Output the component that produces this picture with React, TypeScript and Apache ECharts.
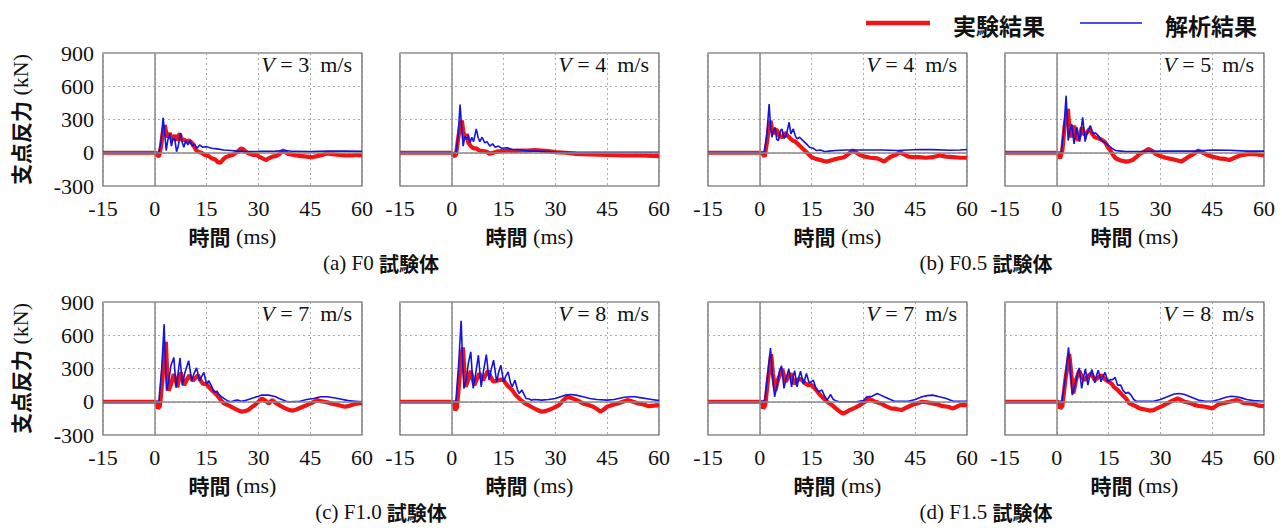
import React, { useEffect, useRef } from "react";
import * as echarts from "echarts";

// ---------- data (time ms, reaction kN) ----------
const X_TICKS = { min: -15, max: 60, interval: 15 };
const Y_TICKS = { min: -300, max: 900, interval: 300 };
const SERIES_NAMES = ["実験結果", "解析結果"];
const SPEEDS = ["3", "4", "4", "5", "7", "8", "7", "8"];
const CAPTION_LABELS = ["(a) F0 ", "(b) F0.5 ", "(c) F1.0 ", "(d) F1.5 "];
const CAPTION_SUFFIX = "試験体";

const F0_V3_EXP = [[-15,0],[0.3,0],[0.8,-30],[1.3,-25],[1.8,60],[2.4,200],[2.9,250],[3.3,180],[3.8,140],[4.3,180],[4.8,130],[5.3,120],[5.8,160],[6.3,110],[6.8,150],[7.3,170],[7.8,110],[8.5,120],[9.2,100],[10,110],[11,80],[11.8,30],[12.5,10],[13.5,0],[14.5,-20],[15.5,-30],[16.5,-50],[17.5,-60],[18.3,-85],[19,-90],[19.8,-60],[20.5,-40],[21.5,-30],[22.5,-20],[23.5,0],[24.3,20],[25,40],[25.7,30],[26.5,5],[27.5,-10],[28.5,-20],[29.5,-20],[30.5,-40],[31.5,-55],[32.3,-65],[33,-50],[34,-35],[35,-30],[36,-15],[37,20],[37.7,10],[38.5,-10],[39.5,-15],[41,-25],[42.5,-30],[44,-35],[45.5,-40],[47,-30],[48.5,-20],[50,-5],[51,-10],[52,-15],[53.5,-20],[55,-25],[57,-25],[58.5,-20],[60,-25]];
const F0_V3_ANA = [[-15,0],[0.5,0],[1.2,5],[1.8,100],[2.4,315],[2.8,200],[3.3,20],[3.8,120],[4.3,170],[4.8,60],[5.3,130],[5.8,120],[6.3,10],[6.8,60],[7.4,180],[7.9,100],[8.4,50],[9,110],[9.6,70],[10.2,110],[10.8,60],[11.5,80],[12.2,40],[13,70],[13.8,50],[15,55],[16.5,40],[18,35],[20,25],[22,20],[24,15],[26,10],[30,12],[35,15],[38,20],[40,12],[45,10],[50,15],[55,15],[60,12]];

const F0_V4_EXP = [[-15,0],[0,0],[0.6,-30],[1.2,-20],[1.8,120],[2.4,240],[2.9,290],[3.3,200],[3.8,120],[4.3,170],[4.8,90],[5.5,60],[6.3,40],[7,40],[8,20],[9,15],[10,10],[11,-10],[12,0],[13,10],[14.5,15],[16,20],[18,15],[20,20],[22,20],[24,25],[26,20],[28,15],[30,5],[33,0],[36,-10],[40,-15],[45,-20],[50,-25],[55,-25],[60,-30]];
const F0_V4_ANA = [[-15,0],[0.5,0],[1.2,5],[1.8,150],[2.4,435],[2.9,200],[3.3,60],[3.8,150],[4.3,120],[4.8,160],[5.3,90],[5.8,140],[6.3,100],[7.1,215],[7.6,140],[8.1,100],[8.8,140],[9.5,90],[10.2,100],[11,60],[11.8,80],[12.6,50],[13.5,60],[14.5,40],[16,45],[17.5,30],[19,30],[21,20],[23,15],[25,15],[28,10],[30,5],[35,5],[40,5],[45,5],[50,5],[55,5],[60,5]];

const F05_V4_EXP = [[-15,0],[0.6,0],[1.4,-35],[2,80],[2.6,220],[3.1,290],[3.6,200],[4,170],[4.5,210],[5,200],[5.7,150],[6.5,140],[7.2,180],[8,155],[8.8,130],[9.5,110],[10.3,100],[11,80],[12,50],[13,20],[14,-10],[15,-40],[16.2,-55],[17.5,-65],[18.5,-75],[19.5,-80],[20.5,-70],[21.5,-60],[23,-50],[24.5,-40],[25.7,-10],[27,20],[28,0],[29,-20],[30.5,-35],[32,-45],[34,-50],[35,-65],[36,-80],[37,-55],[38,-35],[39.3,-20],[40.5,5],[41.5,-10],[43,-35],[44.5,-40],[46,-40],[48,-45],[50,-40],[52,-25],[54,-35],[56,-40],[58,-45],[60,-45]];
const F05_V4_ANA = [[-15,0],[0.5,0],[1.3,5],[2,150],[2.7,440],[3.1,250],[3.5,140],[4,200],[4.4,230],[4.9,120],[5.4,110],[6,200],[6.4,215],[7,130],[7.6,150],[8.5,275],[9,170],[9.7,215],[10.3,150],[10.8,125],[11.5,140],[12.5,110],[13.5,80],[14.4,50],[15.5,40],[16.4,20],[17.5,25],[19,10],[20,15],[22,20],[25,25],[28,25],[30,25],[35,25],[40,20],[43,25],[46,30],[50,28],[55,22],[58,25],[60,30]];

const F05_V5_EXP = [[-15,0],[0.3,0],[1,-50],[1.6,20],[2.3,250],[3.2,395],[3.7,200],[4.2,140],[5,245],[5.6,150],[6.2,110],[7.3,230],[8,160],[8.7,180],[9.5,215],[10.3,170],[11,140],[12,130],[12.5,125],[13.3,110],[14,95],[14.8,50],[15.5,20],[16.3,-20],[17,-50],[18.5,-70],[20,-80],[21,-75],[22,-65],[23,-40],[24,-10],[25.3,10],[26.5,35],[27.5,20],[28.5,-10],[30,-30],[31.5,-45],[33,-55],[34.5,-65],[36,-80],[37.3,-55],[38.5,-30],[39.5,-15],[41,20],[42,5],[43.5,-20],[45,-35],[47,-50],[48.5,-55],[50,-65],[51.5,-45],[53,-25],[55,-15],[56.5,-10],[58,-15],[60,-25]];
const F05_V5_ANA = [[-15,0],[0.5,0],[1.3,10],[2,200],[2.7,515],[3.3,110],[3.8,200],[4.3,260],[5,80],[5.8,230],[6.6,100],[7.5,320],[8.2,100],[8.8,180],[9.7,245],[10.5,170],[11.2,180],[12,155],[13,110],[14,90],[15,65],[16,40],[17,20],[18.5,15],[20,10],[25,12],[30,15],[35,15],[40,15],[45,25],[50,22],[55,15],[60,15]];

const F10_V7_EXP = [[-15,0],[0.3,0],[0.9,-60],[1.5,-40],[2.2,200],[2.8,450],[3.2,540],[3.6,250],[4,100],[4.7,160],[5.5,250],[6.2,180],[6.5,130],[7.5,265],[8.5,150],[9.3,200],[10,240],[11,190],[12.5,240],[13.3,190],[14,160],[15,160],[16,120],[17,90],[18,60],[19,20],[20,-15],[21.5,-35],[23,-60],[24,-75],[25,-90],[26,-85],[27,-75],[28,-50],[29,-30],[30,0],[31,30],[32,10],[33,-15],[34,15],[35,-10],[36,-30],[37.5,-55],[39,-75],[40,-80],[41,-70],[42.5,-50],[44,-30],[45.5,-10],[47,15],[48,5],[49,0],[50,-5],[51,-15],[53,-30],[55,-45],[56,-40],[57,-30],[58,-20],[59,-15],[60,-10]];
const F10_V7_ANA = [[-15,0],[0.5,0],[1.2,10],[2,300],[2.7,700],[3,400],[3.4,100],[4,180],[4.7,330],[5.5,400],[6.2,130],[6.7,250],[7.3,395],[8,150],[8.7,260],[9.8,370],[10.7,190],[11.3,250],[12.1,305],[13,190],[13.6,230],[14.2,265],[15,160],[15.6,190],[16.3,150],[17,100],[17.5,85],[18,95],[18.5,70],[19.3,45],[20,30],[21,10],[22,0],[23,10],[24,15],[25,5],[26,10],[28,30],[30,50],[31,60],[33,60],[35,45],[36,30],[38,5],[39,0],[42,5],[44,20],[46,30],[48,45],[50,45],[53,30],[56,10],[58,5],[60,0]];

const F10_V8_EXP = [[-15,0],[0.3,0],[1,-75],[1.5,-50],[2.2,200],[2.8,420],[3.2,490],[3.6,300],[4,135],[4.8,200],[5.5,280],[6.5,150],[7.2,200],[8,255],[9,195],[9.8,240],[10.5,280],[11.3,220],[12,180],[13.5,195],[14.3,200],[15,195],[16,150],[17,120],[17.5,105],[18.5,60],[20,15],[21.5,-20],[23,-45],[24.5,-70],[26,-90],[27,-85],[28,-75],[29.5,-55],[31,-30],[32.5,20],[33.5,45],[35,30],[36.5,10],[38,-15],[39.5,-30],[41,-45],[42,-65],[43,-90],[44,-70],[45,-45],[46.5,-30],[48,-15],[49.5,0],[51,15],[52,5],[53,-5],[54,-15],[55.5,-25],[57,-40],[58.5,-35],[60,-30]];
const F10_V8_ANA = [[-15,0],[0.5,0],[1.2,10],[2,350],[2.7,730],[3.1,400],[3.5,120],[4.2,200],[4.8,350],[5.5,450],[6.2,120],[6.9,250],[7.7,420],[8.5,135],[9.2,280],[10,425],[10.8,195],[11.4,290],[12.1,375],[13,180],[13.6,270],[14.2,330],[15,180],[15.6,230],[16.3,270],[17,170],[17.5,135],[18.3,195],[19,110],[19.5,75],[20.3,105],[21,60],[21.5,30],[22.5,25],[23,15],[24,20],[26,15],[28,20],[30,30],[31.5,45],[33,60],[34.5,65],[36,60],[38,45],[40,30],[42,20],[45,15],[47,20],[50,40],[51.5,45],[53,45],[55,35],[57,25],[60,10]];

const F15_V7_EXP = [[-15,0],[0.5,0],[1,-60],[1.6,-30],[2.3,180],[3.3,430],[3.8,250],[4.5,100],[5.3,200],[6.5,295],[7.5,180],[8.2,220],[9,255],[10,160],[11,200],[12,205],[13,170],[14,150],[15,150],[15.5,135],[16.5,100],[17.5,60],[18.5,30],[19.5,0],[20.5,-20],[22,-60],[23,-85],[24,-105],[25,-95],[26,-75],[27.5,-55],[29,-30],[30.5,0],[31.5,30],[32.5,15],[33,5],[34,-5],[35,-15],[36.5,-40],[38,-60],[39.5,-65],[41,-75],[42,-60],[43,-45],[44,-30],[45.5,-15],[47,0],[48.5,-5],[50,-15],[51.5,-25],[53,-40],[54.5,-45],[56,-60],[57,-45],[58,-30],[59,-30],[60,-30]];
const F15_V7_ANA = [[-15,0],[0.7,0],[1.5,20],[2.3,250],[3.1,485],[3.6,250],[4.3,45],[5,150],[5.7,280],[6.3,325],[7,120],[7.7,220],[8.4,295],[9.2,135],[9.7,230],[10.1,280],[10.8,135],[11.3,220],[11.8,275],[12.6,160],[13.1,210],[13.5,255],[14.3,170],[14.9,180],[15.5,195],[16.3,120],[17,90],[17.6,100],[18,105],[18.8,50],[19.5,15],[20.5,65],[21.3,20],[22,10],[23,0],[25,0],[28,0],[30,10],[31,45],[32.5,50],[34,75],[35,60],[36,45],[37.5,25],[39,5],[41,5],[43,5],[45,20],[47,45],[48.5,55],[50,60],[52,45],[54,30],[56,5],[58,5],[60,5]];

const F15_V8_EXP = [[-15,0],[0.5,0],[1,-60],[1.6,-40],[2.5,200],[3.6,430],[4.2,250],[4.8,75],[5.6,200],[6.5,280],[7.3,220],[8,195],[9,230],[10,255],[11,195],[12,220],[13,240],[14,200],[15,180],[16,160],[16.5,135],[17.5,110],[19,60],[20,30],[21,-15],[22.5,-35],[24,-60],[25.5,-70],[27,-80],[28,-75],[29,-60],[30.5,-40],[32,-15],[33.5,10],[35,30],[36,15],[37,0],[38.5,-10],[40,-30],[41.5,-40],[43,-45],[45,-60],[46,-40],[47,-20],[48.5,-10],[50,0],[52,15],[53,5],[54,-10],[55.5,-15],[57,-20],[58.5,-35],[60,-40]];
const F15_V8_ANA = [[-15,0],[0.7,0],[1.5,10],[2.4,200],[3.4,490],[3.9,300],[4.5,60],[5.3,150],[6,260],[6.5,305],[7.2,120],[7.8,230],[8.3,295],[9,150],[9.6,240],[10.2,290],[11,170],[11.5,240],[12,285],[12.8,180],[13.4,230],[14,265],[14.8,180],[15.5,200],[16.2,200],[16.9,220],[17.6,150],[18.5,150],[19.2,100],[20,75],[20.7,85],[21.5,60],[22.3,20],[23,5],[25,5],[28,5],[30,20],[32,45],[34,70],[35.5,75],[37,65],[39,40],[41,15],[43,5],[45,5],[47,20],[49,40],[50.5,50],[52,45],[53.5,35],[55,20],[57,10],[60,5]];

const EXP_DATA = [F0_V3_EXP, F0_V4_EXP, F05_V4_EXP, F05_V5_EXP, F10_V7_EXP, F10_V8_EXP, F15_V7_EXP, F15_V8_EXP];
const ANA_DATA = [F0_V3_ANA, F0_V4_ANA, F05_V4_ANA, F05_V5_ANA, F10_V7_ANA, F10_V8_ANA, F15_V7_ANA, F15_V8_ANA];

// ---------- layout ----------
const COL_LEFT = [103, 400, 708, 1005];
const ROW_TOP = [53, 302];
const PW = 259;
const PH = 133;
const SERIF = "Liberation Serif";
const CJK = "Noto Sans CJK JP";
const RED = "#f21414";
const BLUE = "#1414dc";
const LEGEND_POS = [
  { x1: 866, x2: 930, tx: 953, width: 4.5 },
  { x1: 1080, x2: 1142, tx: 1165, width: 1.6 },
];

export default function App() {
  const ref = useRef<HTMLDivElement>(null);
  useEffect(() => {
    if (!ref.current) return;
    const chart = echarts.init(ref.current, null, { renderer: "svg" });
    const grids: any[] = [];
    const xAxes: any[] = [];
    const yAxes: any[] = [];
    const series: any[] = [];
    const graphics: any[] = [];
    const richName = {
      a: { fontFamily: CJK, fontWeight: "bold", fontSize: 21, color: "#111" },
      b: { fontFamily: SERIF, fontSize: 22, color: "#111" },
    };
    for (let i = 0; i < 8; i++) {
      const r = Math.floor(i / 4);
      const c = i % 4;
      const left = COL_LEFT[c];
      const top = ROW_TOP[r];
      grids.push({ left, top, width: PW, height: PH, show: true, borderColor: "#555", borderWidth: 1.2, backgroundColor: "transparent" });
      xAxes.push({
        type: "value", gridIndex: i, min: X_TICKS.min, max: X_TICKS.max, interval: X_TICKS.interval,
        axisLine: { show: false }, axisTick: { show: false },
        axisLabel: { fontFamily: SERIF, fontSize: 22, color: "#111", margin: 11, hideOverlap: false, showMinLabel: true, showMaxLabel: true },
        splitLine: { show: true, lineStyle: { type: [2, 3], color: "#aaa", width: 1 } },
        name: "{a|時間}{b|\u00a0(ms)}", nameLocation: "middle", nameGap: 39,
        nameTextStyle: { rich: richName },
      });
      yAxes.push({
        type: "value", gridIndex: i, min: Y_TICKS.min, max: Y_TICKS.max, interval: Y_TICKS.interval,
        axisLine: { show: false }, axisTick: { show: false },
        axisLabel: { show: c === 0, fontFamily: SERIF, fontSize: 22, color: "#111", margin: 9 },
        splitLine: { show: true, lineStyle: { type: [2, 3], color: "#aaa", width: 1 } },
        name: c === 0 ? "{a|支点反力}{b|\u00a0(kN)}" : "", nameLocation: "middle", nameGap: 72, nameRotate: 90,
        nameTextStyle: { rich: richName },
      });
      series.push({
        type: "line", xAxisIndex: i, yAxisIndex: i, data: [[0, 0]], symbol: "none",
        lineStyle: { width: 0, opacity: 0 }, silent: true, z: 1,
        markLine: {
          silent: true, symbol: ["none", "none"], label: { show: false }, animation: false,
          lineStyle: { color: "#8a8a8a", width: 1.5, type: "solid" },
          data: [{ xAxis: 0 }, { yAxis: 0 }],
        },
      });
      series.push({
        type: "line", name: SERIES_NAMES[0], xAxisIndex: i, yAxisIndex: i, data: EXP_DATA[i],
        symbol: "none", showSymbol: false, lineStyle: { color: RED, width: 4.2 }, itemStyle: { color: RED }, z: 3,
      });
      series.push({
        type: "line", name: SERIES_NAMES[1], xAxisIndex: i, yAxisIndex: i, data: ANA_DATA[i],
        symbol: "none", showSymbol: false, lineStyle: { color: BLUE, width: 1.6 }, itemStyle: { color: BLUE }, z: 4,
      });
      graphics.push({
        type: "text", x: left + PW - 10, y: top + 11, z: 10,
        style: {
          text: "{i|V}{n|\u00a0=\u00a0" + SPEEDS[i] + "\u00a0\u00a0m/s}",
          align: "right", verticalAlign: "middle",
          rich: {
            i: { fontFamily: SERIF, fontStyle: "italic", fontSize: 22, fill: "#111" },
            n: { fontFamily: SERIF, fontSize: 22, fill: "#111" },
          },
        },
      });
    }
    CAPTION_LABELS.forEach((lab, k) => {
      const r = Math.floor(k / 2);
      const pair = k % 2;
      const cx = (COL_LEFT[pair * 2] + COL_LEFT[pair * 2 + 1] + PW) / 2;
      graphics.push({
        type: "text", x: cx, y: ROW_TOP[r] + 210,
        style: {
          text: "{s|" + lab.replace(/ /g, "\u00a0") + "}{c|" + CAPTION_SUFFIX + "}",
          align: "center", verticalAlign: "middle",
          rich: {
            s: { fontFamily: SERIF, fontSize: 21, fill: "#111" },
            c: { fontFamily: CJK, fontWeight: "bold", fontSize: 20, fill: "#111" },
          },
        },
      });
    });
    SERIES_NAMES.forEach((nm, k) => {
      const p = LEGEND_POS[k];
      const col = k === 0 ? RED : BLUE;
      graphics.push({
        type: "line", shape: { x1: p.x1, y1: 23, x2: p.x2, y2: 23 },
        style: { stroke: col, lineWidth: p.width },
      });
      graphics.push({
        type: "text", x: p.tx, y: 25,
        style: { text: nm, fontFamily: CJK, fontWeight: "bold", fontSize: 23, fill: "#111", align: "left", verticalAlign: "middle" },
      });
    });
    chart.setOption({
      animation: false,
      backgroundColor: "#fff",
      textStyle: { fontFamily: SERIF },
      grid: grids,
      xAxis: xAxes,
      yAxis: yAxes,
      series,
      graphic: graphics,
    });
    return () => chart.dispose();
  }, []);
  return <div ref={ref} style={{ position: "fixed", left: 0, top: 0, width: 1282, height: 528, background: "#fff" }} />;
}
